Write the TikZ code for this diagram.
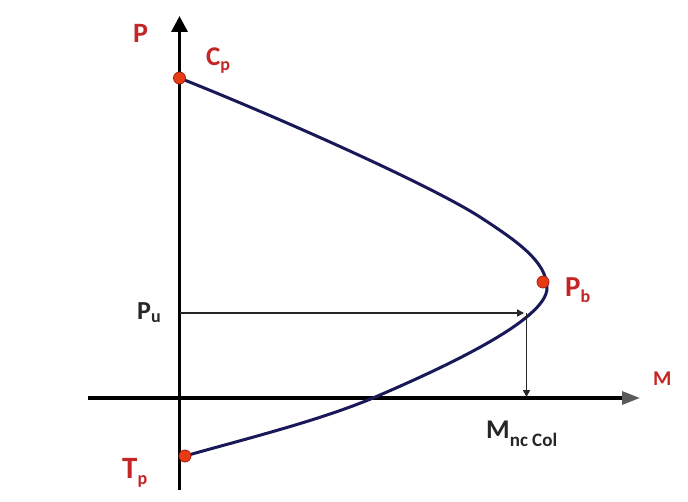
\documentclass[tikz,border=0pt]{standalone}
\usepackage{fontspec}
\setmainfont{Carlito}
\usetikzlibrary{arrows.meta}
\definecolor{labred}{RGB}{196,38,38}
\definecolor{dotfill}{RGB}{230,60,20}
\definecolor{dotline}{RGB}{170,30,20}
\definecolor{navy}{RGB}{25,25,90}
\definecolor{axgray}{RGB}{90,90,90}
\newcommand\fs[1]{\fontsize{#1}{#1}\selectfont}
\tikzset{
  axis/.style={line width=3.2pt, black},
  curveline/.style={line width=3pt, navy},
  thinarrow/.style={line width=1.9pt, black!85, -{Triangle[length=7pt,width=7pt]}},
  keydot/.style={circle, fill=dotfill, draw=dotline, line width=0.8pt, minimum size=12pt, inner sep=0pt},
  lab/.style={anchor=base west, inner sep=0pt, font=\bfseries},
}
\begin{document}
\begin{tikzpicture}[x=1pt,y=1pt]
\useasboundingbox (0,0) rectangle (688,501);
\fill[white] (0,0) rectangle (688,501);
% axes
\coordinate (vb) at (179.5,11);
\coordinate (vt) at (179.5,485);
\coordinate (hl) at (88,103);
\coordinate (hr) at (640,103);
\draw[axis, -{Triangle[length=16pt,width=16pt]}] (vb) -- (vt);
\draw[axis, -{Triangle[length=18pt,width=13pt,color=axgray]}] (hl) -- (hr);
% curve
\coordinate (cpc) at (179.5,423);
\coordinate (U) at (480,284);
\coordinate (R) at (547,213);
\coordinate (X) at (373,103);
\coordinate (tpc) at (185,45);
\draw[curveline] (cpc) .. controls (280,383) and (430,316) .. (U)
                       .. controls (515,261) and (547,240) .. (R)
                       .. controls (547,182) and (450,136) .. (X)
                       .. controls (318,80) and (245,62) .. (tpc);
% Pu arrows
\coordinate (pu) at (179.5,188);
\coordinate (pc) at (524,188);
\coordinate (pv) at (526.5,188);
\coordinate (mn) at (526.5,104);
\draw[thinarrow] (pu) -- (pc);
\draw[thinarrow] (pv) -- (mn);
% dots
\node[keydot] (cp) at (cpc) {};
\node[keydot] (pb) at (543,219) {};
\node[keydot] (tp) at (tpc) {};
% labels
\node[lab, text=labred] (lP) at (133,458) {\fs{28}P};
\node[lab, text=labred] (lC) at (206,435) {\fs{27}C\raisebox{-5pt}{\fs{18}p}};
\node[lab, text=labred] (lPb) at (565,204) {\fs{29}P\raisebox{-6pt}{\fs{18}b}};
\node[lab, text=black!85] (lPu) at (137,181) {\fs{26}P\raisebox{-3pt}{\fs{18}u}};
\node[lab, text=labred] (lM) at (653,115) {\fs{21}M};
\node[lab, text=black!85] (lMn) at (486,63) {\fs{27}M\raisebox{-8pt}{\fs{19}nc Col}};
\node[lab, text=labred] (lT) at (122,23) {\fs{31}T\raisebox{-6pt}{\fs{18}p}};
\end{tikzpicture}
\end{document}
